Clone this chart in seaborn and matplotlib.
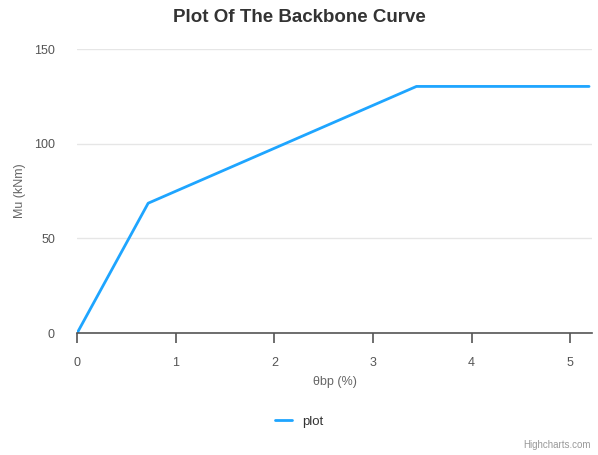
import matplotlib
matplotlib.use("Agg")
import matplotlib.pyplot as plt
import seaborn as sns
import pandas as pd

# backbone curve points
theta_bp = [0.0, 0.72, 3.44, 5.19]
mu_knm = [0.0, 68.6, 130.3, 130.3]

df = pd.DataFrame({"theta": theta_bp, "mu": mu_knm})

sns.set_style("white")
plt.rcParams["font.family"] = ["Liberation Sans", "DejaVu Sans"]

fig = plt.figure(figsize=(5.98, 4.55), dpi=100)
ax = fig.add_axes([0.129, 0.268, 0.861, 0.624])

sns.lineplot(data=df, x="theta", y="mu", ax=ax, color="#1ea5ff", linewidth=2,
             label="plot", legend=False)

ax.set_xlim(0, 5.22)
ax.set_ylim(0, 150)
ax.set_xticks([0, 1, 2, 3, 4, 5])
ax.set_yticks([0, 50, 100, 150])
ax.yaxis.grid(True, color="#e6e6e6", linewidth=1)
ax.set_axisbelow(True)

for s in ["top", "right", "left"]:
    ax.spines[s].set_visible(False)
ax.spines["bottom"].set_color("#555555")
ax.spines["bottom"].set_linewidth(1.2)

ax.tick_params(axis="x", bottom=True, direction="out", length=7, width=1.2,
               color="#555555", labelsize=9, labelcolor="#555555", pad=10.5)
ax.tick_params(axis="y", left=False, length=0, labelsize=9, labelcolor="#555555", pad=16)

ax.set_xlabel("θbp (%)", fontsize=9, color="#666666", labelpad=5)
ax.set_ylabel("Mu (kNm)", fontsize=9, color="#666666")
ax.yaxis.set_label_coords(-0.1, 0.5)

fig.text(0.5, 0.962, "Plot Of The Backbone Curve", ha="center", va="center",
         fontsize=13.5, fontweight="bold", color="#333333")

handles, labels = ax.get_legend_handles_labels()
fig.legend(handles, labels, loc="center", bbox_to_anchor=(0.5, 0.073), frameon=False,
           fontsize=9.5, handlelength=1.3, labelcolor="#333333")

fig.text(0.988, 0.022, "Highcharts.com", ha="right", va="center", fontsize=7,
         color="#999999")

fig.savefig("out.png", dpi=100)
